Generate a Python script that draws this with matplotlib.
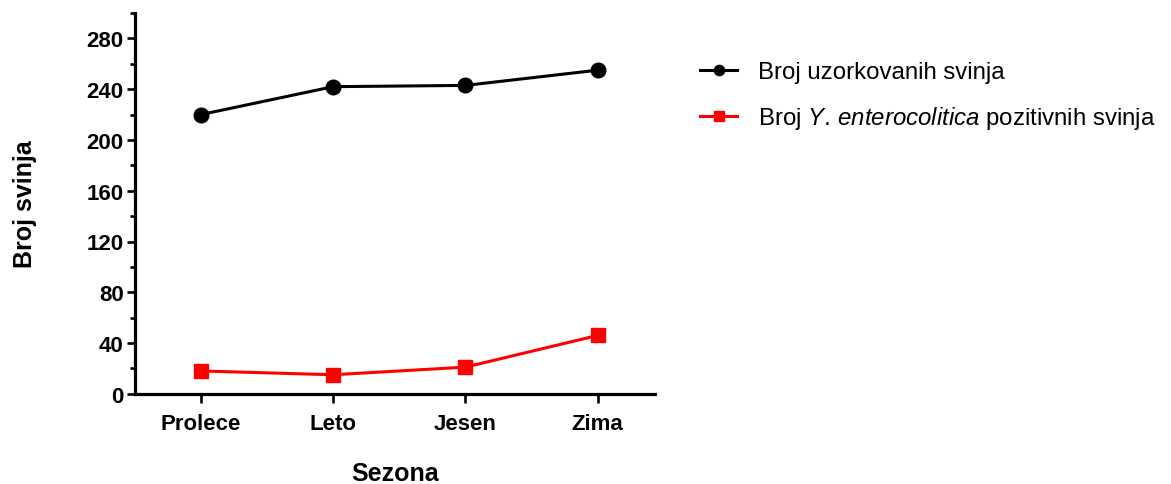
import numpy as np
import matplotlib.pyplot as plt
from matplotlib.ticker import MultipleLocator

plt.rcParams['font.family'] = ['Liberation Sans', 'DejaVu Sans']
plt.rcParams['mathtext.fontset'] = 'custom'
plt.rcParams['mathtext.it'] = 'Liberation Sans:italic'
plt.rcParams['mathtext.rm'] = 'Liberation Sans'

sezone = ["Prolece", "Leto", "Jesen", "Zima"]
uzorkovane = [220, 242, 243, 255]
pozitivne = [18, 15, 21, 46]

fig = plt.figure(figsize=(11.71, 4.85), dpi=100)
ax = fig.add_axes([0.115, 0.186, 0.444, 0.785])

x = np.arange(len(sezone))
ax.plot(x, uzorkovane, color="black", lw=2.2, marker="o", ms=10.5,
        label="Broj uzorkovanih svinja")
ax.plot(x, pozitivne, color="#ff0000", lw=2.2, marker="s", ms=10.5,
        label="Broj $\\mathit{Y.\\,enterocolitica}$ pozitivnih svinja")

ax.set_xlim(-0.5, 3.43)
ax.set_ylim(0, 300)
ax.set_xticks(x)
ax.set_xticklabels(sezone)
ax.set_yticks([0, 40, 80, 120, 160, 200, 240, 280])
ax.yaxis.set_minor_locator(MultipleLocator(20))

for s in ["top", "right"]:
    ax.spines[s].set_visible(False)
for s in ["left", "bottom"]:
    ax.spines[s].set_linewidth(2.3)

ax.tick_params(axis="both", which="major", length=6, width=1.9, labelsize=16)
ax.tick_params(axis="y", which="major", pad=2)
ax.tick_params(axis="x", which="major", pad=7, length=6.5)
ax.tick_params(axis="y", which="minor", length=3.6, width=1.9)
for lab in ax.get_xticklabels() + ax.get_yticklabels():
    lab.set_fontweight("bold")

ax.set_xlabel("Sezona", fontsize=18, fontweight="bold")
ax.set_ylabel("Broj svinja", fontsize=18, fontweight="bold")
ax.xaxis.set_label_coords(0.5, -0.176)
ax.yaxis.set_label_coords(-0.187, 0.5)

fig.legend(loc="upper left", bbox_to_anchor=(700 / 1171, 0.872), frameon=False,
           fontsize=17.3, handlelength=1.55, handletextpad=0.85, labelspacing=0.88,
           borderpad=0, borderaxespad=0, markerscale=0.7)

fig.savefig("out.png", dpi=100)
